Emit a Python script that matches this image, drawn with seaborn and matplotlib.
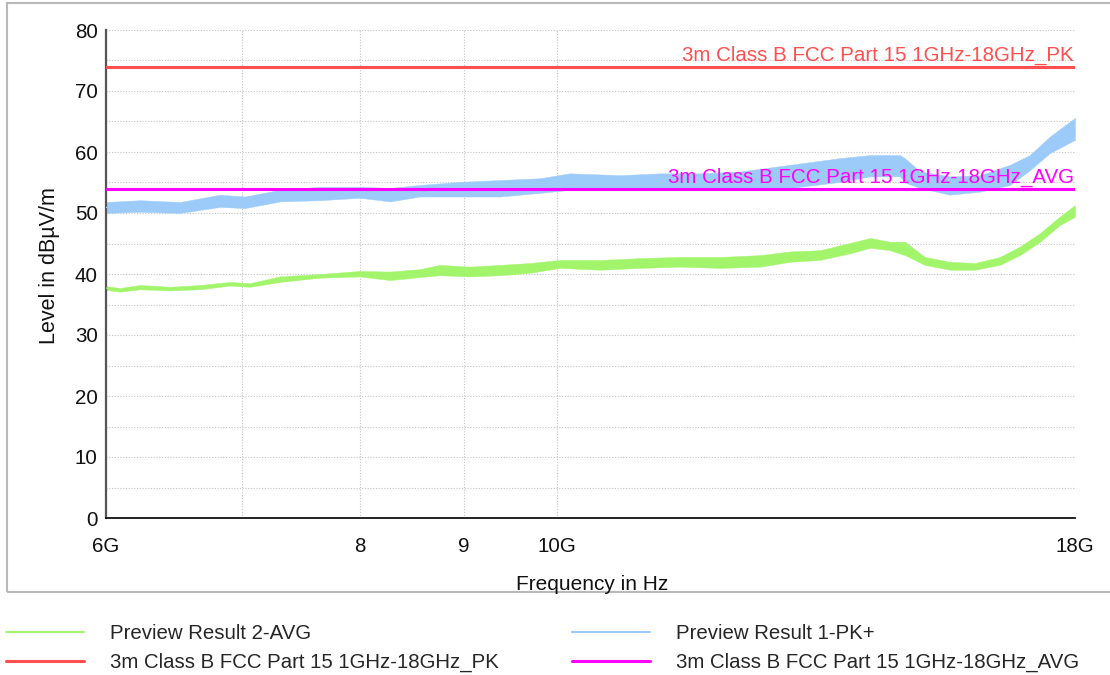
import matplotlib
matplotlib.use("Agg")
import matplotlib.pyplot as plt
import pandas as pd
import seaborn as sns
from matplotlib.lines import Line2D
from matplotlib.patches import Rectangle
from matplotlib.ticker import NullLocator

# ---------------- data (frequency in GHz, level in dBµV/m) ----------------
pk_freq_ghz = [6.000, 6.236, 6.525, 6.828, 7.024, 7.308, 7.648, 8.002, 8.279, 8.566,
               8.963, 9.379, 9.814, 10.15, 10.75, 11.24, 11.77, 12.31, 13.03, 13.79,
               14.27, 14.76, 14.84, 15.10, 15.62, 16.16, 16.72, 17.10, 17.49, 18.00]
pk_low = [50.0, 50.2, 50.0, 51.0, 50.8, 51.9, 52.1, 52.5, 51.9, 52.7,
          52.7, 52.7, 53.3, 53.8, 53.8, 53.8, 54.1, 53.8, 54.1, 55.1,
          56.0, 56.0, 55.0, 54.1, 53.0, 53.5, 54.6, 57.0, 59.8, 62.0]
pk_high = [51.8, 52.1, 51.8, 53.0, 52.7, 53.8, 54.3, 54.3, 54.1, 54.6,
           55.1, 55.4, 55.7, 56.5, 56.2, 56.5, 56.5, 56.8, 57.9, 59.0,
           59.5, 59.5, 59.0, 56.8, 56.0, 56.2, 57.9, 59.5, 62.5, 65.6]

avg_freq_ghz = [6.000, 6.096, 6.236, 6.452, 6.675, 6.906, 7.064, 7.308, 7.648, 8.002,
                8.279, 8.566, 8.762, 9.065, 9.379, 9.703, 10.04, 10.51, 10.99, 11.50,
                12.04, 12.60, 13.03, 13.48, 13.95, 14.27, 14.59, 14.84, 15.18, 15.62,
                16.07, 16.53, 16.91, 17.30, 17.69, 18.00]
avg_low = [37.4, 37.1, 37.5, 37.3, 37.5, 38.1, 37.9, 38.7, 39.4, 39.6,
           39.0, 39.5, 39.8, 39.6, 39.8, 40.2, 41.0, 40.7, 41.0, 41.2,
           41.0, 41.2, 42.0, 42.3, 43.4, 44.3, 43.9, 43.1, 41.5, 40.7,
           40.7, 41.5, 43.1, 45.3, 48.0, 49.4]
avg_high = [38.0, 37.7, 38.2, 37.9, 38.2, 38.7, 38.5, 39.6, 40.0, 40.5,
            40.4, 40.8, 41.5, 41.2, 41.5, 41.8, 42.3, 42.3, 42.6, 42.8,
            42.8, 43.1, 43.7, 43.9, 45.1, 45.9, 45.3, 45.3, 42.8, 42.0,
            41.8, 42.8, 44.5, 46.7, 49.4, 51.3]

limit_freq_ghz = [6.0, 18.0]
limit_pk = [74.0, 74.0]
limit_avg = [54.0, 54.0]

name_avg = "Preview Result 2-AVG"
name_pk = "Preview Result 1-PK+"
name_lim_pk = "3m Class B FCC Part 15 1GHz-18GHz_PK"
name_lim_avg = "3m Class B FCC Part 15 1GHz-18GHz_AVG"

x_ticks = [6, 7, 8, 9, 10, 18]
x_tick_labels = ["6G", "", "8", "9", "10G", "18G"]
y_ticks = [0, 10, 20, 30, 40, 50, 60, 70, 80]
y_minor_ticks = [5, 15, 25, 35, 45, 55, 65, 75]

# ---------------- style ----------------
sns.set_style("white")
plt.rcParams['font.family'] = ['Liberation Sans', 'DejaVu Sans']

C_AVG = "#a2f56a"
C_PK = "#9ccbf9"
C_LPK = "#ff4f4f"
C_LAVG = "#ff00ff"
FS = 14.8

W, H = 1110, 675
fig = plt.figure(figsize=(W / 100, H / 100), dpi=100)
ax = fig.add_axes([106 / W, 1 - 518 / H, 969 / W, 488 / H])

df_pk = pd.DataFrame({"freq": pk_freq_ghz + pk_freq_ghz, "level": pk_low + pk_high})
df_avg = pd.DataFrame({"freq": avg_freq_ghz + avg_freq_ghz, "level": avg_low + avg_high})

sns.lineplot(data=df_pk, x="freq", y="level", estimator="mean", errorbar=("pi", 100),
             color=C_PK, linewidth=0.8, err_kws={"alpha": 1, "linewidth": 0.3, "edgecolor": C_PK},
             ax=ax, zorder=3)
sns.lineplot(data=df_avg, x="freq", y="level", estimator="mean", errorbar=("pi", 100),
             color=C_AVG, linewidth=0.8, err_kws={"alpha": 1, "linewidth": 0.3, "edgecolor": C_AVG},
             ax=ax, zorder=3)
sns.lineplot(x=limit_freq_ghz, y=limit_pk, color=C_LPK, linewidth=2.2, ax=ax, zorder=4)
sns.lineplot(x=limit_freq_ghz, y=limit_avg, color=C_LAVG, linewidth=2.2, ax=ax, zorder=4)

ax.set_xscale("log")
ax.set_xlim(6, 18)
ax.set_ylim(0, 80)
ax.set_xticks(x_ticks)
ax.set_xticklabels(x_tick_labels)
ax.xaxis.set_minor_locator(NullLocator())
ax.set_yticks(y_ticks)
ax.set_yticks(y_minor_ticks, minor=True)
ax.set_xlabel("")
ax.set_ylabel("")

ax.grid(True, which="both", axis="y", linestyle=(0, (1, 1.5)), color="#c4c4c4", linewidth=0.8)
ax.grid(True, which="major", axis="x", linestyle=(0, (1, 1.5)), color="#c4c4c4", linewidth=0.8)
ax.set_axisbelow(True)

for s in ["top", "right"]:
    ax.spines[s].set_visible(False)
ax.spines["left"].set_color("#555555")
ax.spines["left"].set_linewidth(1.6)
ax.spines["bottom"].set_color("#111111")
ax.spines["bottom"].set_linewidth(1.3)

ax.tick_params(axis="both", which="both", direction="inout", length=8, width=1.2,
               color="#333333", labelsize=FS, labelcolor="#111111")
ax.tick_params(axis="x", pad=10)
ax.tick_params(axis="y", pad=2)

ax.annotate(name_lim_pk, xy=(1, limit_pk[0]), xycoords=("axes fraction", "data"),
            xytext=(-1, 1.5), textcoords="offset points", ha="right", va="bottom",
            color=C_LPK, fontsize=FS, zorder=6)
ax.annotate(name_lim_avg, xy=(1, limit_avg[0]), xycoords=("axes fraction", "data"),
            xytext=(-1, 1.5), textcoords="offset points", ha="right", va="bottom",
            color=C_LAVG, fontsize=FS, zorder=6)

fig.text(50 / W, 1 - 266 / H, "Level in dBµV/m", rotation=90, ha="center", va="center",
         fontsize=15.5, color="#111111")
fig.text(592 / W, 1 - 590 / H, "Frequency in Hz", ha="center", va="baseline",
         fontsize=15, color="#111111")

fig.patches.append(Rectangle((7 / W, 1 - 592 / H), 1.2, 589 / H, transform=fig.transFigure,
                             fill=False, edgecolor="#b8b8b8", linewidth=1.5))

handles = [Line2D([], [], color=C_AVG, lw=1.5), Line2D([], [], color=C_LPK, lw=2.2),
           Line2D([], [], color=C_PK, lw=1.5), Line2D([], [], color=C_LAVG, lw=2.2)]
labels = [name_avg, name_lim_pk, name_pk, name_lim_avg]
fig.legend(handles, labels, loc="upper left", bbox_to_anchor=(6 / W, 1 - 624 / H),
           ncol=2, frameon=False, borderpad=0, borderaxespad=0, fontsize=14.7,
           handlelength=3.8, handletextpad=1.3, columnspacing=3.6, labelspacing=0.5)

fig.savefig("out.png", dpi=100, facecolor="white")
